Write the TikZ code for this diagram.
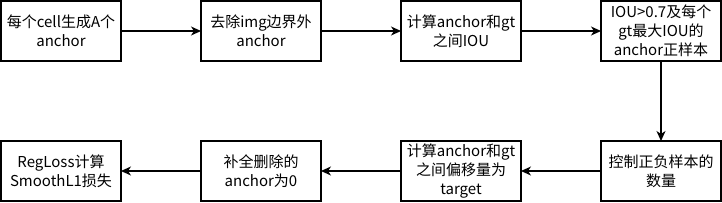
\documentclass[tikz,border=0pt]{standalone}
\usepackage{fontspec}
\setmainfont{Noto Sans CJK SC}
\usepackage{tikz}
\usetikzlibrary{positioning,arrows.meta}

\begin{document}
\begin{tikzpicture}[
  node distance=80pt,
  st/.style={draw, line width=1.2pt, align=center, outer sep=0pt, inner sep=1pt,
             minimum width=120pt, minimum height=60pt,
             font=\fontsize{15}{19}\selectfont},
  arr/.style={-{Stealth[length=10pt,width=9pt,inset=3pt]}, line width=1.2pt}
]
\useasboundingbox (0,0) rectangle (722pt,-202pt);
\node[st] (cell) at (61pt,-31pt) {每个cell生成A个\\anchor};
\node[st, right=of cell] (crop) {去除img边界外\\anchor};
\node[st, right=of crop] (iou) {计算anchor和gt\\之间IOU};
\node[st, right=of iou] (pos) {IOU>0.7及每个\\gt最大IOU的\\anchor正样本};
\node[st, below=of pos] (ctrl) {控制正负样本的\\数量};
\node[st, left=of ctrl] (tgt) {计算anchor和gt\\之间偏移量为\\target};
\node[st, left=of tgt] (fill) {补全删除的\\anchor为0};
\node[st, left=of fill] (loss) {RegLoss计算\\SmoothL1损失};
\foreach \a/\b in {cell/crop, crop/iou, iou/pos, pos/ctrl, ctrl/tgt, tgt/fill, fill/loss}
  \draw[arr] (\a) -- (\b);
\end{tikzpicture}
\end{document}
